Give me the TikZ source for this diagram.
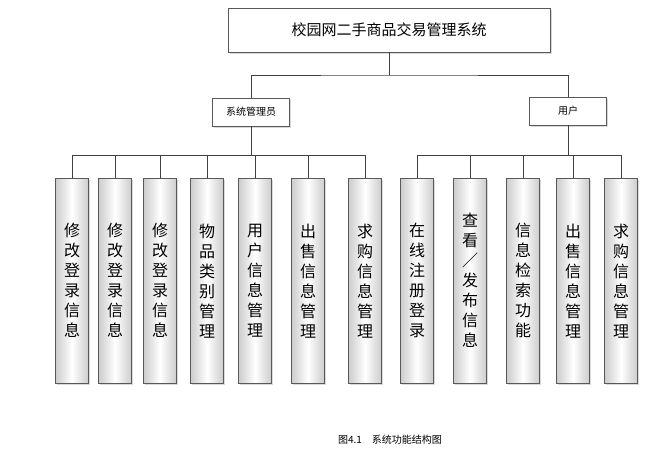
\documentclass[tikz,border=0pt]{standalone}
\usepackage{fontspec}
\setmainfont{Noto Sans CJK SC}[Scale=1]
\usetikzlibrary{shadows}
\begin{document}
\begin{tikzpicture}[x=1pt,y=-1pt,
  box/.style={draw=gray!70!black,fill=white,drop shadow={shadow xshift=1.5pt,shadow yshift=-1.5pt,opacity=0.3}},
  leaf/.style={draw=gray!70!black,left color=gray!40,right color=gray!40,middle color=white,
    drop shadow={shadow xshift=1.5pt,shadow yshift=-1.5pt,opacity=0.3},minimum width=33pt,minimum height=205pt,
    align=center,font=\fontsize{16}{20}\selectfont,inner sep=0pt,anchor=north},
  wire/.style={draw=black!75,line width=0.8pt}]
\useasboundingbox (0,0) rectangle (672,469);
\node[box,minimum width=322pt,minimum height=44pt,font=\fontsize{15}{18}\selectfont] (top) at (389,30) {校园网二手商品交易管理系统};
\node[box,minimum width=77pt,minimum height=28pt,font=\fontsize{10}{12}\selectfont] (adm) at (251,112) {系统管理员};
\node[box,minimum width=77pt,minimum height=28pt,font=\fontsize{10}{12}\selectfont] (usr) at (568,111) {用户};
\coordinate (tb) at (389,75);
\draw[wire] (top.south) -- (tb);
\draw[wire] (adm.north) |- (tb) -| (usr.north);
\foreach \n/\x/\t in {a1/72/{修\\改\\登\\录\\信\\息}, a2/115/{修\\改\\登\\录\\信\\息}, a3/160/{修\\改\\登\\录\\信\\息},
  a4/207/{物\\品\\类\\别\\管\\理}, a5/255/{用\\户\\信\\息\\管\\理}, a6/308/{出\\售\\信\\息\\管\\理}, a7/365/{求\\购\\信\\息\\管\\理}}{
  \node[leaf] (\n) at (\x,178) {\t};
  \draw[wire] (\n.north) -- (\x,155);
}
\draw[wire] (adm.south) -- (adm.south |- 0,155);
\draw[wire] (a1.north |- 0,155) -- (a7.north |- 0,155);
\foreach \n/\x/\t in {u1/417/{在\\线\\注\\册\\登\\录}, u2/470/{查\\看\\／\\发\\布\\信\\息}, u3/523/{信\\息\\检\\索\\功\\能},
  u4/573/{出\\售\\信\\息\\管\\理}, u5/621/{求\\购\\信\\息\\管\\理}}{
  \node[leaf] (\n) at (\x,178) {\t};
  \draw[wire] (\n.north) -- (\x,155);
}
\draw[wire] (usr.south) -- (usr.south |- 0,155);
\draw[wire] (u1.north |- 0,155) -- (u5.north |- 0,155);
\node[font=\fontsize{10}{12}\selectfont] (cap) at (390,440) {图4.1\quad 系统功能结构图};
\end{tikzpicture}
\end{document}
